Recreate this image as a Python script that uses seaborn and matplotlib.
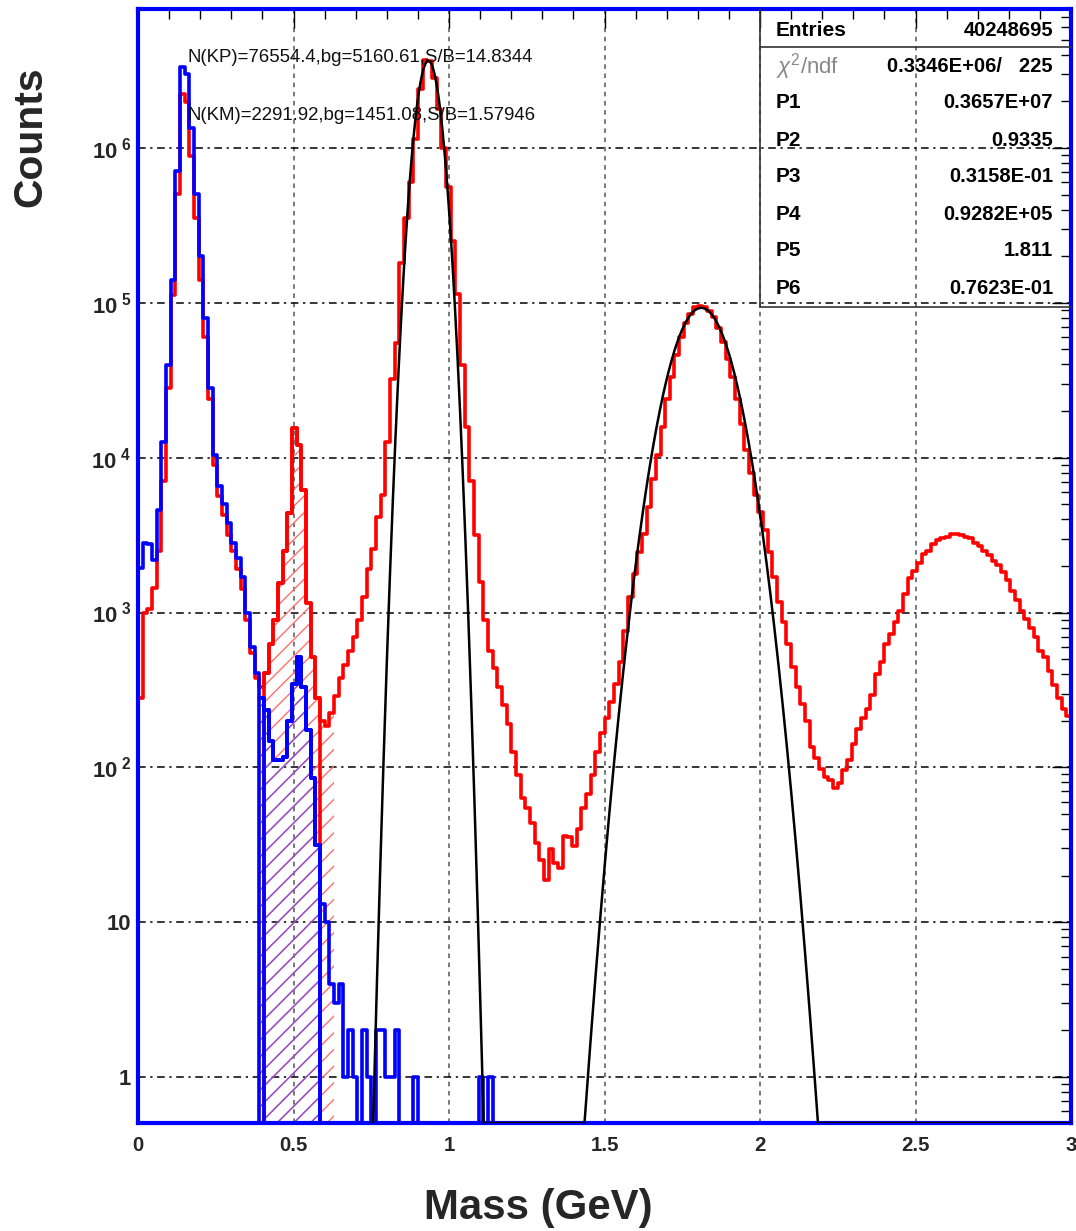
import numpy as np
import pandas as pd
import seaborn as sns
import matplotlib
matplotlib.use("Agg")
import matplotlib.pyplot as plt
from matplotlib import font_manager
from matplotlib.ticker import FixedLocator, MultipleLocator, LogLocator, NullFormatter
from matplotlib.lines import Line2D

# ---------------- data ----------------
X_MIN, X_MAX, N_BINS = 0.0, 3.0, 200
Y_MIN, Y_MAX = 0.505, 7.9e6

# red histogram, log10(counts) per bin of 0.015 GeV
red_log10 = [
    2.45, 3.00, 3.02, 3.16, 3.40, 3.85, 4.45, 5.05, 5.70, 6.35,
    6.30, 5.95, 5.55, 5.15, 4.78, 4.38, 3.95, 3.75, 3.63, 3.50,
    3.40, 3.28, 3.15, 2.95, 2.74, 2.58, 2.52, 2.61, 2.80, 2.95,
    3.19, 3.40, 3.64, 4.19, 4.08, 3.79, 3.06, 2.71, 2.45, 2.30,
    2.27, 2.35, 2.46, 2.58, 2.66, 2.75, 2.84, 2.95, 3.10, 3.28,
    3.41, 3.62, 3.76, 4.10, 4.51, 4.74, 5.26, 5.55, 5.78, 6.06,
    6.38, 6.57, 6.56, 6.45, 6.25, 6.00, 5.75, 5.40, 5.06, 4.60,
    4.20, 3.85, 3.50, 3.20, 2.95, 2.75, 2.64, 2.52, 2.40, 2.28,
    2.10, 1.95, 1.80, 1.74, 1.64, 1.51, 1.40, 1.27, 1.47, 1.38,
    1.35, 1.56, 1.55, 1.49, 1.60, 1.74, 1.83, 1.95, 2.10, 2.22,
    2.32, 2.42, 2.54, 2.68, 2.88, 3.10, 3.25, 3.39, 3.51, 3.68,
    3.86, 4.02, 4.20, 4.38, 4.52, 4.66, 4.78, 4.87, 4.93, 4.97,
    4.98, 4.97, 4.95, 4.91, 4.84, 4.75, 4.64, 4.52, 4.38, 4.22,
    4.05, 3.90, 3.76, 3.65, 3.53, 3.39, 3.23, 3.07, 2.94, 2.80,
    2.65, 2.52, 2.41, 2.30, 2.13, 2.06, 1.99, 1.94, 1.92, 1.87,
    1.90, 1.98, 2.05, 2.15, 2.25, 2.32, 2.38, 2.47, 2.60, 2.68,
    2.80, 2.86, 2.94, 3.01, 3.12, 3.22, 3.27, 3.32, 3.38, 3.40,
    3.44, 3.47, 3.48, 3.49, 3.51, 3.51, 3.50, 3.49, 3.48, 3.45,
    3.43, 3.40, 3.37, 3.33, 3.31, 3.26, 3.21, 3.14, 3.08, 3.01,
    2.96, 2.90, 2.84, 2.75, 2.71, 2.62, 2.53, 2.45, 2.38, 2.33,
]

# blue histogram: log10(counts) for bins 0..40, plain counts for bins 41..199
blue_log10 = [
    3.29, 3.45, 3.44, 3.34, 3.66, 4.10, 4.60, 5.15, 5.85, 6.52,
    6.48, 6.13, 5.70, 5.30, 4.90, 4.45, 4.02, 3.82, 3.70, 3.58,
    3.45, 3.35, 3.23, 3.00, 2.78, 2.61, 2.45, 2.37, 2.17, 2.05,
    2.05, 2.07, 2.30, 2.54, 2.71, 2.52, 2.24, 1.93, 1.50, 1.12,
    1.00,
]
blue_tail = [4, 3, 4, 1, 2, 1, 0, 2, 1, 0, 2, 2, 1, 1, 2, 0, 0, 0, 1, 0,
             0, 0, 0, 0, 0, 0, 0, 0, 0, 0, 0, 0, 1, 0, 1] + [0] * 124

# hatched signal windows (bin index ranges, inclusive)
red_hatch_bins = (27, 41)
blue_hatch_bins = (26, 38)
window_bins = (27, 38)
blue_outer_window = (26, 38)

# fit parameters (two Gaussians) shown in the stats box
fit_params = [3.657e6, 0.9335, 0.03158, 9.282e4, 1.811, 0.07623]
fit_range = (0.75, 3.0)

stat_labels = ["Entries", r"$\chi^{2}$/ndf", "P1", "P2", "P3", "P4", "P5", "P6"]
stat_values = ["40248695", "0.3346E+06/   225", "0.3657E+07", "0.9335",
               "0.3158E-01", "0.9282E+05", "1.811", "0.7623E-01"]

annot_lines = ["N(KP)=76554.4,bg=5160.61,S/B=14.8344",
               "N(KM)=2291.92,bg=1451.08,S/B=1.57946"]

x_ticks = [0, 0.5, 1, 1.5, 2, 2.5, 3]
x_tick_labels = ["0", "0.5", "1", "1.5", "2", "2.5", "3"]
y_ticks = [1, 10, 1e2, 1e3, 1e4, 1e5, 1e6]
y_tick_labels = ["1", "10"] + [r"$\mathbf{10}^{\ \mathbf{%d}}$" % k for k in range(2, 7)]

# ---------------- derived arrays ----------------
edges = np.linspace(X_MIN, X_MAX, N_BINS + 1)
width = edges[1] - edges[0]
centers = 0.5 * (edges[:-1] + edges[1:])
red = 10 ** np.array(red_log10)
blue = np.concatenate([10 ** np.array(blue_log10), np.array(blue_tail, float)])

# ---------------- style ----------------
sns.set_theme(style="white")
names = {f.name for f in font_manager.fontManager.ttflist}
if "Liberation Sans Narrow" in names:
    NARROW, NS = "Liberation Sans Narrow", 1.0
else:
    NARROW, NS = "Liberation Sans", 0.84
plt.rcParams["font.family"] = ["Liberation Sans", "DejaVu Sans"]
plt.rcParams["mathtext.fontset"] = "custom"
plt.rcParams["mathtext.rm"] = NARROW
plt.rcParams["mathtext.it"] = NARROW + ":italic"
plt.rcParams["mathtext.bf"] = NARROW + ":bold"
plt.rcParams["hatch.linewidth"] = 1.0

RED = "#FF0000"
BLUE = "#0000FF"

fig = plt.figure(figsize=(10.76, 12.31), dpi=100)
ax = fig.add_axes([0.1283, 0.0877, 0.86705, 0.905])


def hist(values, i0, i1, pad=0, **kw):
    """Step histogram of bins i0..i1 (inclusive) through seaborn."""
    df = pd.DataFrame({"x": centers[i0:i1 + 1], "w": values[i0:i1 + 1]})
    lo = edges[i0] - pad * width
    hi = edges[i1 + 1] + pad * width
    sns.histplot(data=df, x="x", weights="w", binwidth=width, binrange=(lo, hi),
                 element="step", ax=ax, **kw)


# hatched windows
r0, r1 = red_hatch_bins
hist(red, r0, r1, fill=True, color="#FF7070", facecolor="none",
     edgecolor="#FF7070", hatch="//", linewidth=0, zorder=1)
b0, b1 = blue_hatch_bins
hist(blue, b0, b1, fill=True, color="#8A4FD8", facecolor="none",
     edgecolor="#8A4FD8", hatch="//", linewidth=0, zorder=1.1)

# main histograms (one empty bin on each side so the outline drops to zero)
hist(red, 0, N_BINS - 1, pad=1, fill=False, color=RED, linewidth=2.6, zorder=2)
w0, w1 = window_bins
hist(red, w0, w1, pad=1, fill=False, color=RED, linewidth=2.6, zorder=2.1)
hist(blue, 0, N_BINS - 1, pad=1, fill=False, color=BLUE, linewidth=2.6, zorder=3)
hist(blue, w0, w1, pad=1, fill=False, color=BLUE, linewidth=2.6, zorder=3.1)
o0, o1 = blue_outer_window
hist(blue, o0, o1, pad=1, fill=False, color=BLUE, linewidth=2.6, zorder=3.1)

# fit curve
P1, P2, P3, P4, P5, P6 = fit_params
xf = np.linspace(fit_range[0], fit_range[1], 2000)
yf = P1 * np.exp(-0.5 * ((xf - P2) / P3) ** 2) + P4 * np.exp(-0.5 * ((xf - P5) / P6) ** 2)
yf = np.maximum(yf, Y_MIN)
sns.lineplot(x=xf, y=yf, color="black", linewidth=1.8, estimator=None, sort=False,
             ax=ax, zorder=5)

# axes
ax.set_yscale("log")
ax.set_xlim(X_MIN, X_MAX)
ax.set_ylim(Y_MIN, Y_MAX)
ax.set_xlabel("")
ax.set_ylabel("")

ax.xaxis.set_major_locator(FixedLocator(x_ticks))
ax.set_xticklabels(x_tick_labels)
ax.xaxis.set_minor_locator(MultipleLocator(0.1))
ax.yaxis.set_major_locator(FixedLocator(y_ticks))
ax.set_yticklabels(y_tick_labels)
ax.yaxis.set_minor_locator(LogLocator(base=10, subs=np.arange(2, 10), numticks=20))
ax.yaxis.set_minor_formatter(NullFormatter())

for lab in ax.get_xticklabels():
    lab.set_fontweight("bold")
    lab.set_fontsize(17.5 * NS)
    lab.set_family([NARROW, "DejaVu Sans"])
for lab in ax.get_yticklabels():
    lab.set_fontweight("bold")
    lab.set_fontsize(19 * NS)
    lab.set_family([NARROW, "DejaVu Sans"])

ax.tick_params(axis="both", which="both", direction="in", top=True, right=True,
               color="black")
ax.tick_params(axis="both", which="major", length=14, width=1.0)
ax.tick_params(axis="both", which="minor", length=7, width=1.0)
ax.tick_params(axis="x", which="major", pad=9)
ax.tick_params(axis="y", which="major", pad=5)

for s in ax.spines.values():
    s.set_color(BLUE)
    s.set_linewidth(3.0)
    s.set_zorder(4)

ax.set_axisbelow(True)
ax.xaxis.grid(True, which="major", linestyle=(0, (3, 3)), color="#555555", linewidth=1.1)
ax.yaxis.grid(True, which="major", linestyle=(0, (5, 3, 1.5, 3)), color="black", linewidth=1.1)

# annotations
for line, yy in zip(annot_lines, [58, 115]):
    fig.text(0.1747, 1 - yy / 1231, line, fontsize=16 * NS, ha="left", va="center",
             color="#111111", family=[NARROW, "DejaVu Sans"], zorder=10)

# stats box
bx0, by0 = 760 / 1076, 1 - 307 / 1231
bx1, by1 = 0.99535, 0.9927
fig.add_artist(Line2D([bx0, bx0], [by0, by1], color="#333333", lw=1.2))
fig.add_artist(Line2D([bx0, bx1], [by0, by0], color="#333333", lw=1.2))
fig.add_artist(Line2D([bx0, bx1], [1 - 47 / 1231] * 2, color="#333333", lw=1.2))
row_y = [30, 67, 103, 140, 177, 214, 251, 289]
for lab, val, yy in zip(stat_labels, stat_values, row_y):
    is_chi = "chi" in lab
    fig.text(776 / 1076, 1 - yy / 1231, lab, fontsize=15 if not is_chi else 16,
             fontweight="normal" if is_chi else "bold",
             color="#888888" if is_chi else "black", ha="left", va="center")
    fig.text(1053 / 1076, 1 - yy / 1231, val, fontsize=14.5, fontweight="bold",
             color="black", ha="right", va="center")

# axis titles
fig.text(0.028, 1 - 137 / 1231, "Counts", rotation=90, fontsize=35 * NS,
         fontweight="bold", ha="center", va="center", family=[NARROW, "DejaVu Sans"])
fig.text(538 / 1076, 1 - 1208 / 1231, "Mass (GeV)", fontsize=36 * NS,
         fontweight="bold", ha="center", va="center", family=[NARROW, "DejaVu Sans"])

fig.savefig("out.png", dpi=100)
